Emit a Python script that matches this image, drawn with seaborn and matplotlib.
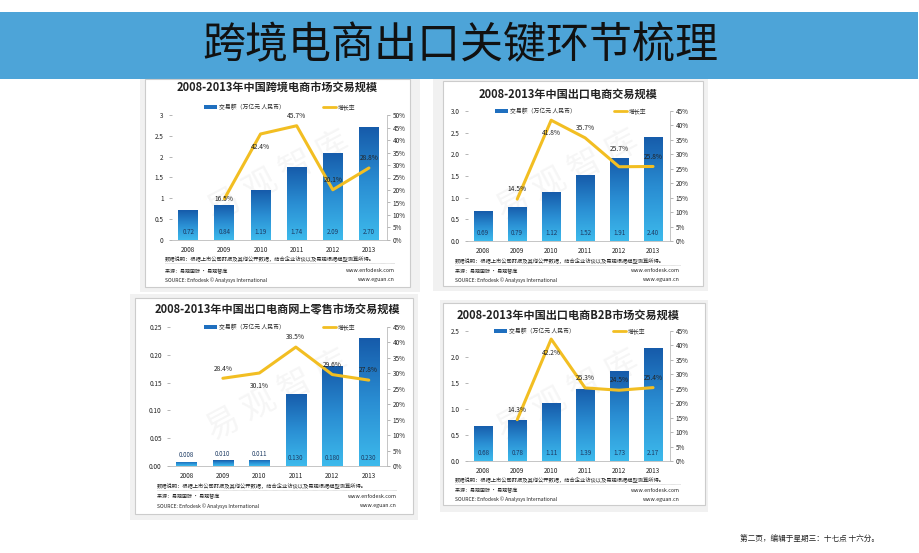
import numpy as np
import pandas as pd
import matplotlib.pyplot as plt
import seaborn as sns
from matplotlib.patches import Rectangle, Patch
from matplotlib.lines import Line2D
from matplotlib.colors import LinearSegmentedColormap

# ---- data ----
years = ['2008', '2009', '2010', '2011', '2012', '2013']

c1_title = '2008-2013年中国跨境电商市场交易规模'
c1_amount = [0.72, 0.84, 1.19, 1.74, 2.09, 2.70]
c1_growth = [np.nan, 16.5, 42.4, 45.7, 20.1, 28.8]
c1_yticks = [0, 0.5, 1, 1.5, 2, 2.5, 3]
c1_ylabels = ['0', '0.5', '1', '1.5', '2', '2.5', '3']
c1_rticks = [0, 5, 10, 15, 20, 25, 30, 35, 40, 45, 50]

c2_title = '2008-2013年中国出口电商交易规模'
c2_amount = [0.69, 0.79, 1.12, 1.52, 1.91, 2.40]
c2_growth = [np.nan, 14.5, 41.8, 35.7, 25.7, 25.8]
c2_yticks = [0, 0.5, 1.0, 1.5, 2.0, 2.5, 3.0]
c2_ylabels = ['0.0', '0.5', '1.0', '1.5', '2.0', '2.5', '3.0']
c2_rticks = [0, 5, 10, 15, 20, 25, 30, 35, 40, 45]

c3_title = '2008-2013年中国出口电商网上零售市场交易规模'
c3_amount = [0.008, 0.010, 0.011, 0.130, 0.180, 0.230]
c3_growth = [np.nan, 28.4, 30.1, 38.5, 29.6, 27.8]
c3_yticks = [0, 0.05, 0.10, 0.15, 0.20, 0.25]
c3_ylabels = ['0.00', '0.05', '0.10', '0.15', '0.20', '0.25']
c3_rticks = [0, 5, 10, 15, 20, 25, 30, 35, 40, 45]

c4_title = '2008-2013年中国出口电商B2B市场交易规模'
c4_amount = [0.68, 0.78, 1.11, 1.39, 1.73, 2.17]
c4_growth = [np.nan, 14.3, 42.2, 25.3, 24.5, 25.4]
c4_yticks = [0, 0.5, 1.0, 1.5, 2.0, 2.5]
c4_ylabels = ['0.0', '0.5', '1.0', '1.5', '2.0', '2.5']
c4_rticks = [0, 5, 10, 15, 20, 25, 30, 35, 40, 45]

slide_title = '跨境电商出口关键环节梳理'
footer = '第二页，编辑于星期三：十七点 十六分。'
legend_labels = ['交易额（万亿元 人民币）', '增长率']
note = '数据说明：根据上市公司财报及其他公开数据，结合企业访谈以及易观根据模型测算所得。'
src_cn = '来源：易观国际 · 易观智库'
src_en = 'SOURCE: Enfodesk © Analysys International'
url1 = 'www.enfodesk.com'
url2 = 'www.eguan.cn'

sns.set_theme(style='white')
plt.rcParams['font.family'] = ['Noto Sans CJK SC', 'DejaVu Sans']

W, H = 920, 553
fig = plt.figure(figsize=(9.2, 5.53), dpi=100)
fig.patch.set_facecolor('white')

YELLOW = '#F2BE22'
bar_cmap = LinearSegmentedColormap.from_list('bar', ['#3DBAEC', '#2A8ED3', '#165BAA'])
grad = np.linspace(0, 1, 256).reshape(-1, 1)


def fx(x):
    return x / W


def fy(y):
    return 1 - y / H


def frect(l, t, r, b, z=-2, **kw):
    fig.add_artist(Rectangle((fx(l), fy(b)), fx(r - l), (b - t) / H,
                             transform=fig.transFigure, zorder=z, **kw))


# title band
frect(0, 12, 918, 79, facecolor='#4DA4D8', edgecolor='none')
fig.text(fx(460), fy(46), slide_title, ha='center', va='center',
         fontsize=31, color='#111111')
fig.text(fx(810), fy(540), footer, ha='center', va='center', fontsize=5.5, color='#222222')

charts = [
    dict(title=c1_title, amount=c1_amount, growth=c1_growth, yt=c1_yticks, yl=c1_ylabels,
         rt=c1_rticks, fmt='{:.2f}', outer=(140, 75, 420, 292), inner=(145, 79, 410, 287),
         axes=(172, 115, 387, 240), tpos=(277, 87), lpos=(280, 107),
         foot=(165, 395, 259, 272, 280), dy=[0, 0, -9, 7, 7, 7]),
    dict(title=c2_title, amount=c2_amount, growth=c2_growth, yt=c2_yticks, yl=c2_ylabels,
         rt=c2_rticks, fmt='{:.2f}', outer=(433, 78, 708, 291), inner=(443, 81, 703, 286),
         axes=(468, 111, 670, 241), tpos=(568, 94), lpos=(571, 111),
         foot=(455, 680, 261, 272, 280), dy=[0, 7, -9, 7, 13, 7]),
    dict(title=c3_title, amount=c3_amount, growth=c3_growth, yt=c3_yticks, yl=c3_ylabels,
         rt=c3_rticks, fmt='{:.3f}', outer=(130, 294, 418, 520), inner=(135, 298, 413, 514),
         axes=(170, 327, 387, 466), tpos=(277, 310), lpos=(280, 327),
         foot=(157, 397, 486, 497, 506), dy=[0, 7, -9, 7, 7, 7]),
    dict(title=c4_title, amount=c4_amount, growth=c4_growth, yt=c4_yticks, yl=c4_ylabels,
         rt=c4_rticks, fmt='{:.2f}', outer=(440, 300, 708, 512), inner=(443, 303, 705, 505),
         axes=(468, 331, 670, 461), tpos=(568, 315), lpos=(570, 331),
         foot=(455, 680, 480, 491, 499), dy=[0, 7, -10, 7, 7, 7]),
]

for c in charts:
    frect(*c['outer'], z=-3, facecolor='#F1F1F1', edgecolor='none')
    frect(*c['inner'], z=-2, facecolor='white', edgecolor='#CCCCCC', linewidth=0.8)

    l, t, r, b = c['axes']
    ax = fig.add_axes([fx(l), fy(b), fx(r - l), (b - t) / H])
    ax.patch.set_alpha(0)
    df = pd.DataFrame({'year': years, 'amount': c['amount'], 'growth': c['growth']})
    sns.barplot(data=df, x='year', y='amount', ax=ax, width=0.55, color='#1F6FBF',
                saturation=1, zorder=2)
    # vertical gradient fill, clipped to each bar
    for p in list(ax.patches):
        x0, y0, w, h = p.get_x(), p.get_y(), p.get_width(), p.get_height()
        im = ax.imshow(grad, cmap=bar_cmap, origin='lower', aspect='auto',
                       extent=(x0, x0 + w, y0, y0 + h), zorder=2)
        im.set_clip_path(p)
        p.set_facecolor('none')
        p.set_edgecolor('none')

    ymax = c['yt'][-1]
    ax.set_xlim(-0.45, 5.5)
    ax.set_ylim(0, ymax)
    ax.set_yticks(c['yt'])
    ax.set_yticklabels(c['yl'])
    ax.set_xlabel('')
    ax.set_ylabel('')
    ax.tick_params(axis='y', labelsize=4.6, length=2, width=0.5, color='#999999',
                   pad=4, labelcolor='#222222')
    ax.tick_params(axis='x', labelsize=4.6, length=0, pad=4, labelcolor='#222222')
    for s in ['top', 'right']:
        ax.spines[s].set_visible(False)
    ax.spines['left'].set_visible(False)
    ax.spines['bottom'].set_color('#BBBBBB')
    ax.spines['bottom'].set_linewidth(0.6)

    for i, v in enumerate(c['amount']):
        if v < 0.05 * ymax:
            ax.annotate(c['fmt'].format(v), (i, v), xytext=(0, 1.5), textcoords='offset points',
                        ha='center', va='bottom', fontsize=4.5, color='#1D3B63', zorder=4)
        else:
            ax.annotate(c['fmt'].format(v), (i, 0), xytext=(0, 6), textcoords='offset points',
                        ha='center', va='center', fontsize=4.5, color='#1D3B63', zorder=4)

    ax.text(2.5, ymax * 0.5, '易 观 智 库', rotation=28, ha='center', va='center',
            fontsize=24, color='#888888', alpha=0.08, zorder=1)

    ax2 = ax.twinx()
    sns.lineplot(x=np.arange(len(years)), y=c['growth'], ax=ax2, color=YELLOW, lw=2.2)
    ax2.set_ylim(0, c['rt'][-1])
    ax2.set_yticks(c['rt'])
    ax2.set_yticklabels([f'{v}%' for v in c['rt']])
    ax2.set_xlim(-0.45, 5.5)
    ax2.tick_params(axis='y', labelsize=4.6, length=2, width=0.5, color='#999999',
                    pad=2, labelcolor='#222222')
    for s in ['top', 'left', 'bottom']:
        ax2.spines[s].set_visible(False)
    ax2.spines['right'].set_color('#BBBBBB')
    ax2.spines['right'].set_linewidth(0.6)
    for i, g in enumerate(c['growth']):
        if np.isnan(g):
            continue
        ax2.annotate(f'{g:.1f}%', (i, g), xytext=(0, c['dy'][i]), textcoords='offset points',
                     ha='center', va='center', fontsize=4.8, color='#222222')

    # title and legend
    fig.text(fx(c['tpos'][0]), fy(c['tpos'][1]), c['title'], ha='center', va='center',
             fontsize=8, fontweight='bold', color='#222222')
    handles = [Patch(facecolor='#1F6FBF', edgecolor='none'),
               Line2D([0], [0], color=YELLOW, lw=2)]
    fig.legend(handles, legend_labels, loc='center', ncol=2, frameon=False,
               bbox_to_anchor=(fx(c['lpos'][0]), fy(c['lpos'][1])), fontsize=4.2,
               handlelength=2.2, handleheight=0.5, handletextpad=0.4, columnspacing=6.5)

    fl, fr, y1, y2, y3 = c['foot']
    fig.text(fx(fl), fy(y1), note, ha='left', va='center', fontsize=3.8, color='#222222')
    fig.add_artist(Line2D([fx(fl), fx(fr)], [fy(y1 + 4), fy(y1 + 4)], transform=fig.transFigure,
                          color='#AAAAAA', lw=0.4, ls=(0, (1, 1))))
    fig.text(fx(fl), fy(y2), src_cn, ha='left', va='center', fontsize=3.6, color='#222222')
    fig.text(fx(fl), fy(y3), src_en, ha='left', va='center', fontsize=3.6, color='#222222')
    fig.text(fx(fr), fy(y2 - 1), url1, ha='right', va='center', fontsize=3.8, color='#222222')
    fig.text(fx(fr), fy(y3), url2, ha='right', va='center', fontsize=3.8, color='#222222')

fig.savefig('out.png', dpi=100, facecolor='white')
